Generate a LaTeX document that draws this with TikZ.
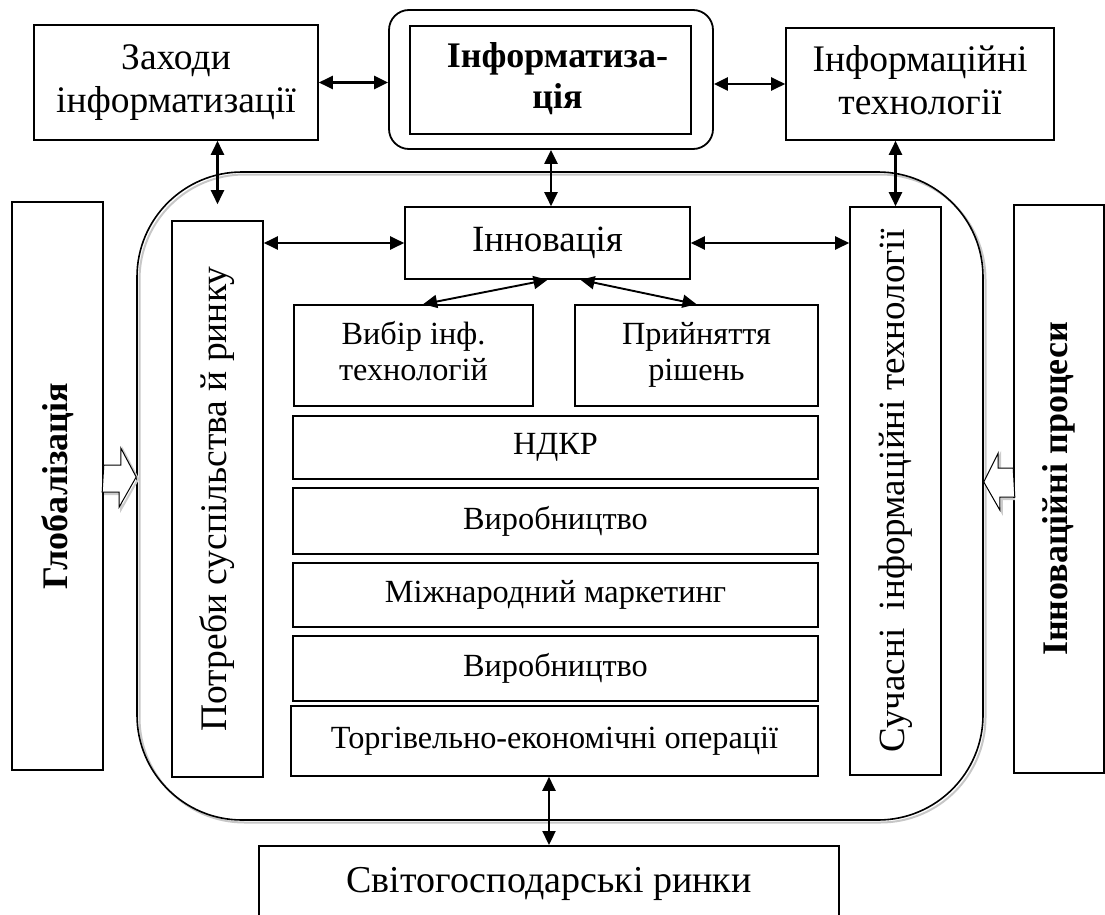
\documentclass[tikz,border=0pt]{standalone}
\usepackage{fontspec}
\usepackage{graphicx}
\setmainfont{Liberation Serif}
\usetikzlibrary{arrows.meta,calc}
\begin{document}
\begin{tikzpicture}[x=1pt,y=-1pt,
  box/.style={draw,line width=1.6pt,inner sep=0pt,align=center,fill=white},
  bigtxt/.style={font=\fontsize{37.5}{43}\selectfont},
  smalltxt/.style={font=\fontsize{32.3}{36}\selectfont},
  boldtxt/.style={font=\fontsize{36}{41}\selectfont\bfseries},
  dbl/.style={<->,>={Triangle[length=14pt,width=13pt]},line width=2.3pt},
  hollow/.style={draw,line width=1pt,fill=white},
  shadowline/.style={draw=black!22,line width=2pt}
]
\useasboundingbox (0,0) rectangle (1105,915);
\clip (0,0) rectangle (1105,915);

% big frame with light shadow
\node[shadowline,rounded corners=105,minimum width=846,minimum height=648,inner sep=0pt] (frameshadow) at (562.5,498.5) {};
\node[draw,line width=1.6pt,rounded corners=105,minimum width=846,minimum height=648,inner sep=0pt] (frame) at (560,496) {};

% top row
\node[box,bigtxt,minimum width=284,minimum height=115] (zah) at (176,82.5) {Заходи\strut\\інформатизації\strut};
\node[draw,line width=1.8pt,rounded corners=20,minimum width=324,minimum height=139,inner sep=0pt] (infzo) at (551,79.5) {};
\node[box,boldtxt,minimum width=281,minimum height=108] (infz) at (550.5,80) {\hspace*{14pt}Інформатиза-\strut\\\hspace*{14pt}ція\strut};
\node[box,bigtxt,minimum width=268,minimum height=112] (it) at (920,84) {Інформаційні\strut\\технології\strut};

% side boxes
\node[box,boldtxt,minimum width=91,minimum height=568] (glob) at (57.5,486) {\rotatebox{90}{Глобалізація}};
\node[box,boldtxt,minimum width=90,minimum height=568] (innp) at (1059,489) {\rotatebox{90}{Інноваційні процеси}};
\node[box,bigtxt,minimum width=91,minimum height=556] (potr) at (217.5,499) {\rotatebox{90}{Потреби суспільства й ринку}};
\node[box,font=\fontsize{37}{40}\selectfont,minimum width=91,minimum height=568] (such) at (895.5,491) {\rotatebox{90}{Сучасні\ \ інформаційні технології}};

% inner boxes
\node[box,font=\fontsize{37}{40}\selectfont,minimum width=285,minimum height=72] (innov) at (547.5,243) {Інновація};
\node[box,smalltxt,minimum width=239,minimum height=101] (vybir) at (413.5,355.5) {Вибір інф.\strut\\технологій\strut};
\node[box,smalltxt,minimum width=243,minimum height=101] (pryin) at (696.5,355.5) {Прийняття\strut\\рішень\strut};
\node[box,smalltxt,minimum width=525,minimum height=63] (ndkr) at (555.5,447.5) {НДКР};
\node[box,smalltxt,minimum width=525,minimum height=66] (vyr1) at (555.5,521) {Виробництво};
\node[box,smalltxt,minimum width=525,minimum height=64] (mizh) at (555.5,595) {Міжнародний маркетинг};
\node[box,smalltxt,minimum width=525,minimum height=65] (vyr2) at (555.5,668.5) {Виробництво};
\node[box,smalltxt,minimum width=527,minimum height=70] (torg) at (554.5,741) {Торгівельно-економічні операції};

% bottom box (cut by page edge)
\node[draw,line width=1.6pt,fill=white,anchor=north,minimum width=580,inner xsep=0pt,inner ysep=0pt,
      text height=47pt,text depth=63pt,font=\fontsize{38}{44}\selectfont] (svit) at (549,845) {Світогосподарські ринки};

% double arrows
\draw[dbl] (zah.east) -- (zah.east -| infzo.west);
\draw[dbl] (it.west -| infzo.east) -- (it.west);
\draw[dbl] (infzo.south) -- (infzo.south |- innov.north);
\draw[dbl,shorten >=16pt] (potr.north |- zah.south) -- (potr.north);
\draw[dbl] (such.north |- it.south) -- (such.north);
\draw[dbl] (innov.west -| potr.east) -- (innov.west);
\draw[dbl] (innov.east) -- (innov.east -| such.west);
\draw[dbl,line width=1.9pt] ($(vybir.north west)!0.54!(vybir.north east)$) -- (innov.south);
\draw[dbl,line width=1.9pt] ([xshift=33pt]innov.south) -- (pryin.north);
\draw[dbl] (svit.north |- torg.south) -- (svit.north);

% hollow arrows
\coordinate (ga) at ($(glob.east)+(0,-9)$);
\draw[black!20,line width=2pt] ($(ga)+(2,-10)$) -- ++(17,0) -- ++(0,-17) -- ($(frame.west |- ga)+(2,2)$) -- ++(-17,30) -- ++(0,-15) -- ++(-17,0);
\draw[hollow] ($(ga)+(0,-12)$) -- ++(17,0) -- ++(0,-17) -- (frame.west |- ga) -- ++(-17,30) -- ++(0,-15) -- ++(-17,0) -- cycle;
\coordinate (ia) at ($(frame.east)+(0,-14)$);
\draw[black!20,line width=2pt] ($(innp.west)+(0,-19)$) -- ++(-13,0) -- ++(0,-15) -- ($(ia)+(2,2)$) -- ++(16,28) -- ++(0,-13) -- ++(13,0);
\draw[hollow] ($(innp.west)+(0,-21)$) -- ++(-15,0) -- ++(0,-15) -- (ia) -- ++(16,28) -- ++(0,-13) -- ++(15,0) -- cycle;
\end{tikzpicture}
\end{document}
